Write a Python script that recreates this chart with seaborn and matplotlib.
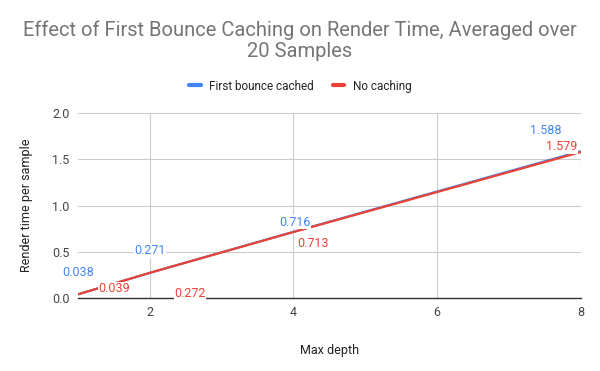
import matplotlib
matplotlib.use("Agg")
import matplotlib.pyplot as plt
import pandas as pd
import seaborn as sns

# Data
depths = [1, 2, 4, 8]
cached = [0.038, 0.271, 0.716, 1.588]
no_cache = [0.039, 0.272, 0.713, 1.579]
series_names = ["First bounce cached", "No caching"]
colors = ["#4285F4", "#EA4335"]

# label offsets (points) as placed in the original chart
cached_offsets = [(0, 16), (0, 16), (1, 7), (-25, 15)]
no_cache_offsets = [(26, 4), (29, -15), (14, -8), (-14, 4)]

df = pd.DataFrame({
    "depth": depths * 2,
    "time": cached + no_cache,
    "series": [series_names[0]] * len(depths) + [series_names[1]] * len(depths),
})

sns.set_style("white")
plt.rcParams["font.family"] = ["Roboto", "DejaVu Sans"]

fig = plt.figure(figsize=(6, 3.71), dpi=100)
ax = fig.add_axes([0.13, 0.197, 0.838, 0.498])

sns.lineplot(data=df, x="depth", y="time", hue="series", palette=colors,
             linewidth=1.6, ax=ax, legend=False)
for line in ax.get_lines():
    line.set_solid_capstyle("butt")

ax.set_xlim(1, 8)
ax.set_ylim(0, 2.0)
ax.set_xticks([2, 4, 6, 8])
ax.set_yticks([0, 0.5, 1.0, 1.5, 2.0])
ax.set_yticklabels(["0.0", "0.5", "1.0", "1.5", "2.0"])
ax.grid(True, color="#cccccc", linewidth=0.8)
ax.set_axisbelow(True)
for s in ["top", "right", "left"]:
    ax.spines[s].set_visible(False)
ax.spines["bottom"].set_color("#333333")
ax.spines["bottom"].set_linewidth(1.0)
ax.tick_params(axis="both", length=0, labelsize=9, colors="#444444", pad=6)

ax.set_xlabel("Max depth", fontsize=9, color="#222222", labelpad=18)
ax.set_ylabel("Render time per sample", fontsize=9, color="#222222", labelpad=14)

# data labels
for vals, offs, col in [(cached, cached_offsets, colors[0]),
                        (no_cache, no_cache_offsets, colors[1])]:
    for x, y, off in zip(depths, vals, offs):
        ax.annotate(f"{y:.3f}", (x, y), xytext=off, textcoords="offset points",
                    ha="center", va="center", fontsize=9, color=col,
                    bbox=dict(boxstyle="square,pad=0.05", fc="white", ec="none"),
                    annotation_clip=False, zorder=5)

fig.suptitle("Effect of First Bounce Caching on Render Time, Averaged over\n20 Samples",
             fontsize=14.5, color="#757575", y=0.945, linespacing=1.15)

handles = [plt.Line2D([], [], color=c, linewidth=3) for c in colors]
fig.legend(handles, series_names, loc="center", bbox_to_anchor=(0.5, 0.768),
           ncol=2, frameon=False, fontsize=8.5, handlelength=1.0,
           columnspacing=1.6, handletextpad=0.7)

fig.savefig("out.png", dpi=100)
